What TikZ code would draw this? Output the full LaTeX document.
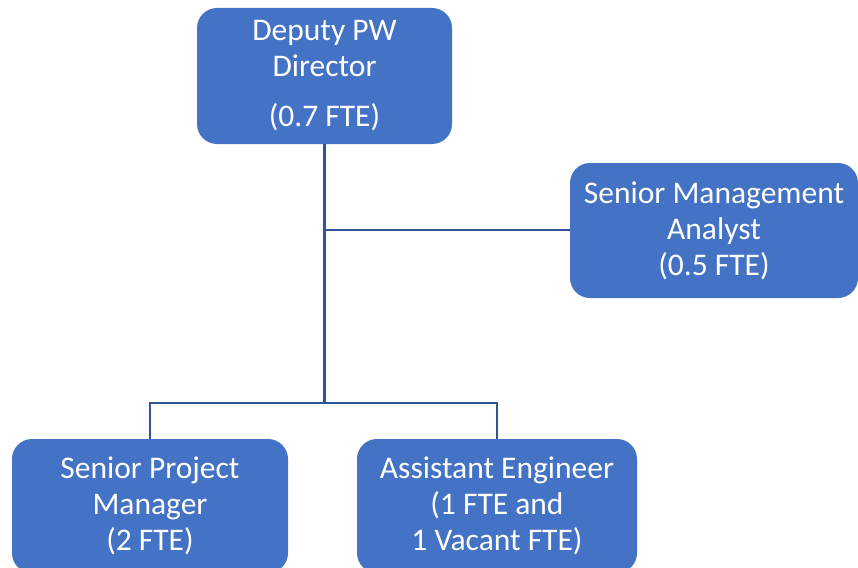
\documentclass[tikz,border=0pt]{standalone}
\usepackage{fontspec}
\setmainfont{Carlito}
\definecolor{boxblue}{HTML}{4472C4}
\definecolor{lineblue}{HTML}{2F5597}
\begin{document}
\begin{tikzpicture}[x=1pt,y=-1pt,
  orgbox/.style={draw=none, fill=boxblue, rounded corners=20pt, text=white, align=center,
    font=\fontsize{31.5}{36}\selectfont, inner sep=0pt},
  conn/.style={draw=lineblue, line width=2.4pt}]
\clip (0,0) rectangle (858,567);
\fill[white] (0,0) rectangle (858,567);
\node[orgbox, minimum width=255pt, minimum height=136pt] (top) at (324.5,76) {Deputy PW\\Director\\[14pt](0.7 FTE)};
\node[orgbox, minimum width=288pt, minimum height=135pt] (sma) at (714,230.5) {Senior Management\\Analyst\\(0.5 FTE)};
\node[orgbox, minimum width=276pt, minimum height=134pt] (spm) at (150,506) {Senior Project\\Manager\\(2 FTE)};
\node[orgbox, minimum width=280pt, minimum height=134pt] (ae) at (497,506) {Assistant Engineer\\(1 FTE and\\1 Vacant FTE)};
\coordinate (mid) at (324.5,230);
\coordinate (bus) at (324.5,403);
\draw[conn] (top.south) -- (bus);
\draw[conn] (mid) -- (sma.west |- mid);
\draw[conn] (spm.north) |- (bus) -| (ae.north);
\end{tikzpicture}
\end{document}
